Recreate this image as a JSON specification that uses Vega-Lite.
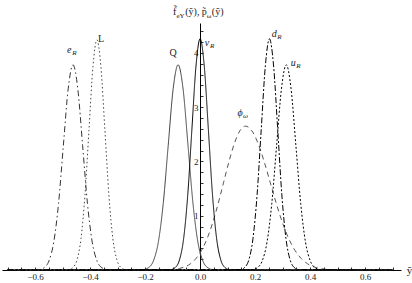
{
  "$schema": "https://vega.github.io/schema/vega-lite/v6.json",
  "width": 399,
  "height": 247,
  "autosize": {"type": "none"},
  "padding": {"left": 2, "top": 23, "right": 11, "bottom": 13},
  "background": "white",
  "config": {
    "view": {"stroke": null},
    "axis": {"grid": false, "domainColor": "#000", "domainWidth": 1, "tickColor": "#000", "tickWidth": 0.8, "labelColor": "#222", "labelFont": "Liberation Serif", "labelFontSize": 9, "labelOverlap": false, "labelFlush": false, "labelBound": false}
  },
  "datasets": {
    "curves": [
      {"s": "eR", "x": -0.7, "y": 0}, {"s": "eR", "x": -0.5845, "y": 0.008}, {"s": "eR", "x": -0.567, "y": 0.042}, {"s": "eR", "x": -0.5495, "y": 0.166}, {"s": "eR", "x": -0.532, "y": 0.511}, {"s": "eR", "x": -0.5145, "y": 1.227}, {"s": "eR", "x": -0.497, "y": 2.293}, {"s": "eR", "x": -0.4795, "y": 3.336}, {"s": "eR", "x": -0.462, "y": 3.78}, {"s": "eR", "x": -0.4445, "y": 3.336}, {"s": "eR", "x": -0.427, "y": 2.293}, {"s": "eR", "x": -0.4095, "y": 1.227}, {"s": "eR", "x": -0.392, "y": 0.511}, {"s": "eR", "x": -0.3745, "y": 0.166}, {"s": "eR", "x": -0.357, "y": 0.042}, {"s": "eR", "x": -0.3395, "y": 0.008}, {"s": "eR", "x": 0.7, "y": 0},
      {"s": "L", "x": -0.7, "y": 0}, {"s": "L", "x": -0.4765, "y": 0.009}, {"s": "L", "x": -0.462, "y": 0.047}, {"s": "L", "x": -0.4475, "y": 0.186}, {"s": "L", "x": -0.433, "y": 0.574}, {"s": "L", "x": -0.4185, "y": 1.377}, {"s": "L", "x": -0.404, "y": 2.572}, {"s": "L", "x": -0.3895, "y": 3.742}, {"s": "L", "x": -0.375, "y": 4.24}, {"s": "L", "x": -0.3605, "y": 3.742}, {"s": "L", "x": -0.346, "y": 2.572}, {"s": "L", "x": -0.3315, "y": 1.377}, {"s": "L", "x": -0.317, "y": 0.574}, {"s": "L", "x": -0.3025, "y": 0.186}, {"s": "L", "x": -0.288, "y": 0.047}, {"s": "L", "x": -0.2735, "y": 0.009}, {"s": "L", "x": 0.7, "y": 0},
      {"s": "Q", "x": -0.7, "y": 0}, {"s": "Q", "x": -0.206, "y": 0.008}, {"s": "Q", "x": -0.188, "y": 0.042}, {"s": "Q", "x": -0.17, "y": 0.166}, {"s": "Q", "x": -0.152, "y": 0.511}, {"s": "Q", "x": -0.134, "y": 1.227}, {"s": "Q", "x": -0.116, "y": 2.293}, {"s": "Q", "x": -0.098, "y": 3.336}, {"s": "Q", "x": -0.08, "y": 3.78}, {"s": "Q", "x": -0.062, "y": 3.336}, {"s": "Q", "x": -0.044, "y": 2.293}, {"s": "Q", "x": -0.026, "y": 1.227}, {"s": "Q", "x": -0.008, "y": 0.511}, {"s": "Q", "x": 0.01, "y": 0.166}, {"s": "Q", "x": 0.028, "y": 0.042}, {"s": "Q", "x": 0.046, "y": 0.008}, {"s": "Q", "x": 0.7, "y": 0},
      {"s": "phi", "x": -0.7, "y": 0}, {"s": "phi", "x": -0.115, "y": 0.006}, {"s": "phi", "x": -0.075, "y": 0.029}, {"s": "phi", "x": -0.035, "y": 0.116}, {"s": "phi", "x": -0.015, "y": 0.211}, {"s": "phi", "x": 0.005, "y": 0.359}, {"s": "phi", "x": 0.025, "y": 0.573}, {"s": "phi", "x": 0.045, "y": 0.86}, {"s": "phi", "x": 0.065, "y": 1.213}, {"s": "phi", "x": 0.085, "y": 1.607}, {"s": "phi", "x": 0.105, "y": 2.0}, {"s": "phi", "x": 0.125, "y": 2.339}, {"s": "phi", "x": 0.145, "y": 2.568}, {"s": "phi", "x": 0.165, "y": 2.65}, {"s": "phi", "x": 0.1875, "y": 2.568}, {"s": "phi", "x": 0.21, "y": 2.339}, {"s": "phi", "x": 0.2325, "y": 2.0}, {"s": "phi", "x": 0.255, "y": 1.607}, {"s": "phi", "x": 0.2775, "y": 1.213}, {"s": "phi", "x": 0.3, "y": 0.86}, {"s": "phi", "x": 0.3225, "y": 0.573}, {"s": "phi", "x": 0.345, "y": 0.359}, {"s": "phi", "x": 0.3675, "y": 0.211}, {"s": "phi", "x": 0.39, "y": 0.116}, {"s": "phi", "x": 0.435, "y": 0.029}, {"s": "phi", "x": 0.48, "y": 0.006}, {"s": "phi", "x": 0.7, "y": 0},
      {"s": "uR", "x": -0.7, "y": 0}, {"s": "uR", "x": 0.1905, "y": 0.008}, {"s": "uR", "x": 0.208, "y": 0.042}, {"s": "uR", "x": 0.2255, "y": 0.166}, {"s": "uR", "x": 0.243, "y": 0.511}, {"s": "uR", "x": 0.2605, "y": 1.227}, {"s": "uR", "x": 0.278, "y": 2.293}, {"s": "uR", "x": 0.2955, "y": 3.336}, {"s": "uR", "x": 0.313, "y": 3.78}, {"s": "uR", "x": 0.3305, "y": 3.336}, {"s": "uR", "x": 0.348, "y": 2.293}, {"s": "uR", "x": 0.3655, "y": 1.227}, {"s": "uR", "x": 0.383, "y": 0.511}, {"s": "uR", "x": 0.4005, "y": 0.166}, {"s": "uR", "x": 0.418, "y": 0.042}, {"s": "uR", "x": 0.4355, "y": 0.008}, {"s": "uR", "x": 0.7, "y": 0},
      {"s": "dR", "x": -0.7, "y": 0}, {"s": "dR", "x": 0.147, "y": 0.009}, {"s": "dR", "x": 0.162, "y": 0.047}, {"s": "dR", "x": 0.177, "y": 0.187}, {"s": "dR", "x": 0.192, "y": 0.576}, {"s": "dR", "x": 0.207, "y": 1.383}, {"s": "dR", "x": 0.222, "y": 2.584}, {"s": "dR", "x": 0.237, "y": 3.759}, {"s": "dR", "x": 0.252, "y": 4.26}, {"s": "dR", "x": 0.267, "y": 3.759}, {"s": "dR", "x": 0.282, "y": 2.584}, {"s": "dR", "x": 0.297, "y": 1.383}, {"s": "dR", "x": 0.312, "y": 0.576}, {"s": "dR", "x": 0.327, "y": 0.187}, {"s": "dR", "x": 0.342, "y": 0.047}, {"s": "dR", "x": 0.357, "y": 0.009}, {"s": "dR", "x": 0.7, "y": 0},
      {"s": "nuR", "x": -0.7, "y": 0}, {"s": "nuR", "x": -0.105, "y": 0.009}, {"s": "nuR", "x": -0.09, "y": 0.047}, {"s": "nuR", "x": -0.075, "y": 0.187}, {"s": "nuR", "x": -0.06, "y": 0.576}, {"s": "nuR", "x": -0.045, "y": 1.383}, {"s": "nuR", "x": -0.03, "y": 2.584}, {"s": "nuR", "x": -0.015, "y": 3.759}, {"s": "nuR", "x": 0, "y": 4.26}, {"s": "nuR", "x": 0.015, "y": 3.759}, {"s": "nuR", "x": 0.03, "y": 2.584}, {"s": "nuR", "x": 0.045, "y": 1.383}, {"s": "nuR", "x": 0.06, "y": 0.576}, {"s": "nuR", "x": 0.075, "y": 0.187}, {"s": "nuR", "x": 0.09, "y": 0.047}, {"s": "nuR", "x": 0.105, "y": 0.009}, {"s": "nuR", "x": 0.7, "y": 0}
    ],
    "labels": [
      {"n": "eR", "b": "e", "sub": "R", "x": -0.476, "y": 4.06},
      {"n": "L", "b": "L", "sub": "", "x": -0.36, "y": 4.26},
      {"n": "Q", "b": "Q", "sub": "", "x": -0.098, "y": 3.99},
      {"n": "nuR", "b": "ν", "sub": "R", "x": 0.025, "y": 4.19},
      {"n": "phi", "b": "ϕ", "sub": "ω", "x": 0.145, "y": 2.9},
      {"n": "dR", "b": "d", "sub": "R", "x": 0.269, "y": 4.34},
      {"n": "uR", "b": "u", "sub": "R", "x": 0.338, "y": 3.82}
    ],
    "ttl": [
      {"t": "f̃", "k": "m", "x": -0.0985, "y": 4.69},
      {"t": "eY", "k": "s", "x": -0.0858, "y": 4.64},
      {"t": "(ỹ),", "k": "m", "x": -0.0541, "y": 4.69},
      {"t": "p̃", "k": "m", "x": 0.0058, "y": 4.69},
      {"t": "ω", "k": "s", "x": 0.0243, "y": 4.64},
      {"t": "(ỹ)", "k": "m", "x": 0.0425, "y": 4.69}
    ]
  },
  "encoding": {
    "x": {
      "field": "x", "type": "quantitative",
      "scale": {"domain": [-0.72, 0.73], "nice": false, "zero": false},
      "axis": {
        "title": "ỹ", "titleAngle": 0, "titleX": 407, "titleY": 0, "titleBaseline": "middle", "titleAlign": "center",
        "titleFont": "Liberation Serif", "titleFontSize": 11, "titleFontWeight": "normal", "titleColor": "#222",
        "values": [-0.7, -0.65, -0.6, -0.55, -0.5, -0.45, -0.4, -0.35, -0.3, -0.25, -0.2, -0.15, -0.1, -0.05, 0, 0.05, 0.1, 0.15, 0.2, 0.25, 0.3, 0.35, 0.4, 0.45, 0.5, 0.55, 0.6, 0.65, 0.7],
        "format": ".1f",
        "labelExpr": "abs(datum.value*5 - round(datum.value*5)) < 0.001 ? datum.label : ''",
        "tickSize": -3, "labelPadding": 5
      }
    },
    "y": {
      "field": "y", "type": "quantitative",
      "scale": {"domain": [0, 4.55], "nice": false, "zero": true},
      "axis": {
        "title": null, "orient": "left", "offset": -198,
        "values": [0.2, 0.4, 0.6, 0.8, 1, 1.2, 1.4, 1.6, 1.8, 2, 2.2, 2.4, 2.6, 2.8, 3, 3.2, 3.4, 3.6, 3.8, 4, 4.2, 4.4],
        "labelExpr": "abs(datum.value - round(datum.value)) < 0.001 ? format(datum.value, 'd') : ''",
        "tickSize": -3, "labelPadding": 5
      }
    }
  },
  "layer": [
    {
      "data": {"name": "curves"},
      "mark": {"type": "line", "interpolate": "monotone"},
      "encoding": {
        "detail": {"field": "s"},
        "color": {"field": "s", "type": "nominal", "legend": null, "scale": {"domain": ["eR", "L", "Q", "phi", "uR", "dR", "nuR"], "range": ["#333333", "#444444", "#444444", "#555555", "#000000", "#000000", "#000000"]}},
        "strokeWidth": {"field": "s", "type": "ordinal", "legend": null, "scale": {"domain": ["eR", "L", "Q", "phi", "uR", "dR", "nuR"], "range": [1, 1, 1, 1, 3, 3, 2]}},
        "strokeDash": {"field": "s", "type": "nominal", "legend": null, "scale": {"domain": ["eR", "L", "Q", "phi", "uR", "dR", "nuR"], "range": [[6, 3, 1.5, 3], [1.5, 2.5], [1, 0], [5, 4], [2, 2], [6, 2, 2, 2], [1, 0]]}}
      }
    },
    {
      "data": {"name": "labels"},
      "transform": [{"filter": "datum.sub != ''"}],
      "mark": {"type": "text", "font": "Liberation Serif", "fontSize": 10, "fontStyle": "italic", "align": "center", "baseline": "middle", "color": "#222"},
      "encoding": {"text": {"field": "b"}}
    },
    {
      "data": {"name": "labels"},
      "transform": [{"filter": "datum.sub == ''"}],
      "mark": {"type": "text", "font": "Liberation Serif", "fontSize": 10, "align": "center", "baseline": "middle", "color": "#222"},
      "encoding": {"text": {"field": "b"}}
    },
    {
      "data": {"name": "labels"},
      "transform": [{"filter": "datum.sub != ''"}],
      "mark": {"type": "text", "font": "Liberation Serif", "fontSize": 7, "fontStyle": "italic", "align": "left", "baseline": "middle", "dx": 3, "dy": 3, "color": "#222"},
      "encoding": {"text": {"field": "sub"}}
    },
    {
      "data": {"name": "ttl"},
      "transform": [{"filter": "datum.k == 'm'"}],
      "mark": {"type": "text", "font": "Liberation Serif", "fontSize": 10, "align": "left", "baseline": "alphabetic", "color": "#222"},
      "encoding": {"text": {"field": "t"}}
    },
    {
      "data": {"name": "ttl"},
      "transform": [{"filter": "datum.k == 's'"}],
      "mark": {"type": "text", "font": "Liberation Serif", "fontSize": 7, "align": "left", "baseline": "alphabetic", "color": "#222"},
      "encoding": {"text": {"field": "t"}}
    }
  ]
}
